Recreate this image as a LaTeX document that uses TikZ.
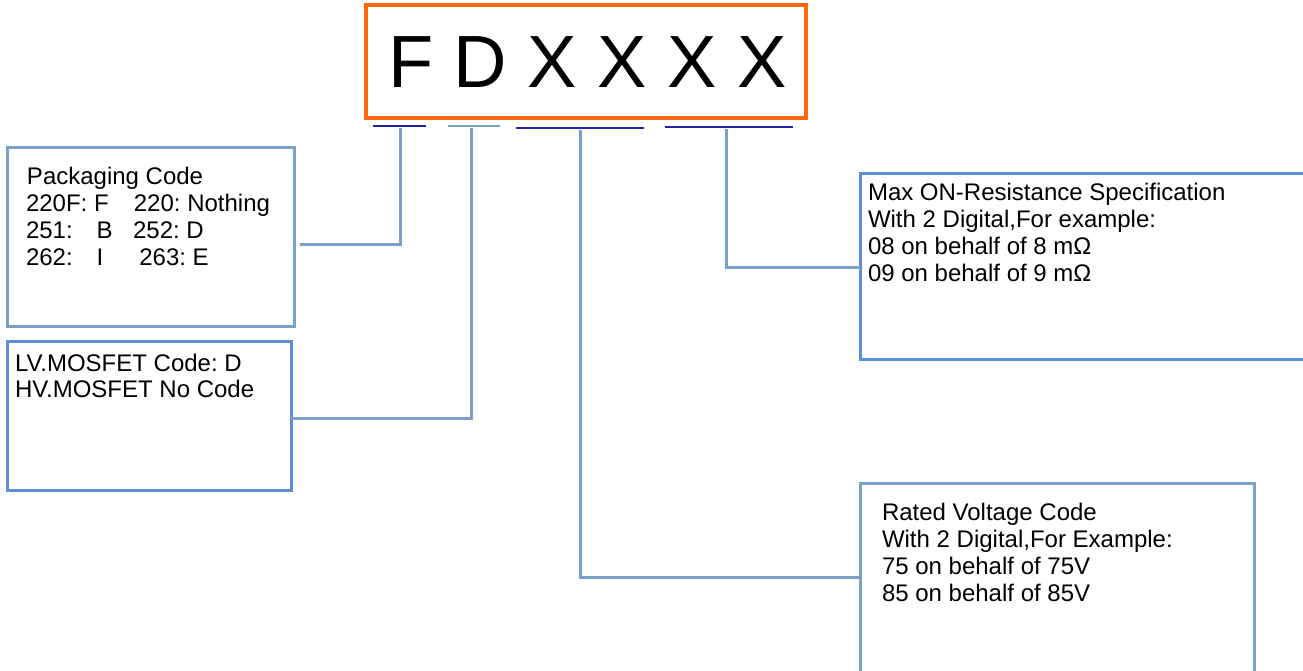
\documentclass[tikz,border=0pt]{standalone}
\usepackage{fontspec}
\setmainfont{Liberation Sans}
\frenchspacing
\definecolor{steel}{HTML}{7BA0C8}
\definecolor{brightblue}{HTML}{5B90D6}
\definecolor{orangeframe}{HTML}{FF6A10}
\definecolor{darkline}{HTML}{2424AA}
\begin{document}
\begin{tikzpicture}[x=1pt,y=-1pt,
  box/.style={draw=#1,line width=3pt,rectangle,inner sep=0pt,outer sep=0pt},
  txt/.style={anchor=base west,inner sep=0pt,outer sep=0pt,font=\fontsize{24}{27}\selectfont},
  underl/.style={line width=2.6pt,draw=#1},
  conn/.style={draw=steel,line width=3pt}]
\useasboundingbox (0,0) rectangle (1303,670);
\clip (0,0) rectangle (1303,670);
% title box
\node[box=orangeframe,line width=3.2pt,minimum width=440pt,minimum height=113pt] (title) at (586,61.5) {};
\node[anchor=base west,inner sep=0pt,font=\fontsize{74}{80}\selectfont] (code) at (388,87) {F D X X X X};
% underlines
\coordinate (u1a) at (373,126); \coordinate (u1b) at (426,126);
\coordinate (u2a) at (448,126); \coordinate (u2b) at (500,126);
\coordinate (u3a) at (516,128); \coordinate (u3b) at (644,128);
\coordinate (u4a) at (665,127); \coordinate (u4b) at (793,127);
\draw[underl=darkline] (u1a) -- (u1b);
\draw[underl=steel] (u2a) -- (u2b);
\draw[underl=darkline] (u3a) -- (u3b);
\draw[underl=darkline] (u4a) -- (u4b);
\coordinate (u1) at (400,128);
\coordinate (u2) at (471,128);
\coordinate (u3) at (580,130);
\coordinate (u4) at (726,129);
% boxes
\node[box=steel,minimum width=287pt,minimum height=179pt] (b1) at (150.5,236.5) {};
\node[box=brightblue,minimum width=284pt,minimum height=149pt] (b2) at (149,415.5) {};
\node[box=brightblue,minimum width=450pt,minimum height=186pt] (b3) at (1085,266) {};
\node[box=steel,minimum width=394pt,minimum height=197pt] (b4) at (1057,581.5) {};
% texts
\node[txt] (t1a) at (27,184) {Packaging Code};
\node[txt] (t1b) at (26,211) {220F: F\hspace{1.05em}220: Nothing};
\node[txt] (t1c) at (26,238) {251:\hspace{1.0em}B\hspace{0.85em}252: D};
\node[txt] (t1d) at (26,265) {262:\hspace{1.0em}I\hspace{1.5em}263: E};
\node[txt] (t2a) at (15,371) {LV.MOSFET Code: D};
\node[txt] (t2b) at (15,397) {HV.MOSFET No Code};
\node[txt] (t3a) at (868,200) {Max ON-Resistance Specification};
\node[txt] (t3b) at (868,227) {With 2 Digital,For example:};
\node[txt] (t3c) at (868,254) {08 on behalf of 8 m\symbol{"03A9}};
\node[txt] (t3d) at (868,281) {09 on behalf of 9 m\symbol{"03A9}};
\node[txt] (t4a) at (882,520) {Rated Voltage Code};
\node[txt] (t4b) at (882,547) {With 2 Digital,For Example:};
\node[txt] (t4c) at (882,574) {75 on behalf of 75V};
\node[txt] (t4d) at (882,601) {85 on behalf of 85V};
% connectors
\coordinate (j1) at (400,244);
\coordinate (j2) at (471,418);
\coordinate (j3) at (580,577);
\coordinate (j4) at (726,267);
\draw[conn] (u1) -- (j1) -- ([xshift=6pt]j1 -| b1.east);
\draw[conn] (u2) -- (j2) -- (j2 -| b2.east);
\draw[conn] (u3) -- (j3) -- (j3 -| b4.west);
\draw[conn] (u4) -- (j4) -- (j4 -| b3.west);
\end{tikzpicture}
\end{document}
